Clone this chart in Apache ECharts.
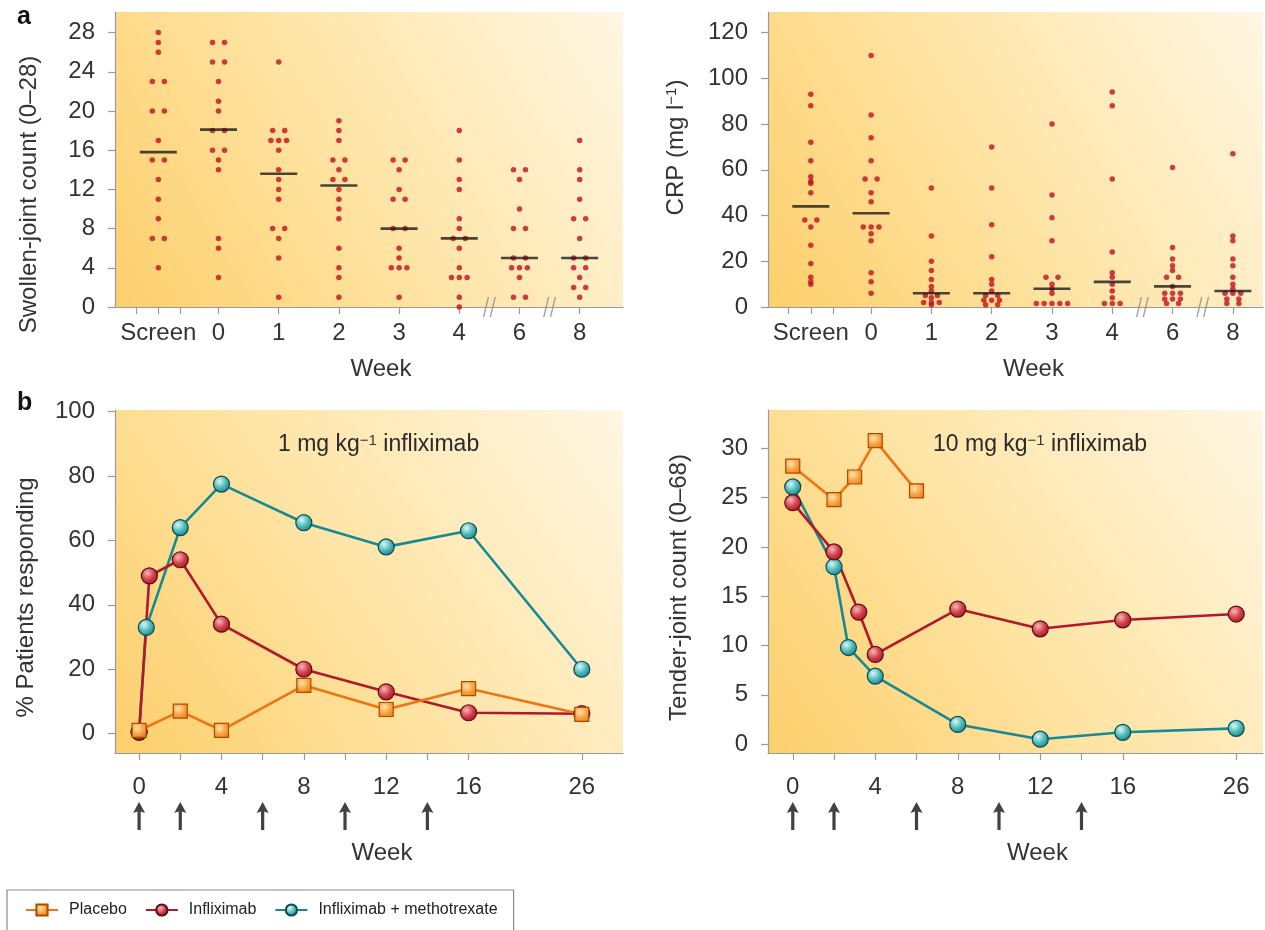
<!DOCTYPE html>
<html>
<head>
<meta charset="utf-8">
<script src="https://cdn.jsdelivr.net/npm/echarts@6/dist/echarts.min.js"></script>
<style>
  html, body { margin: 0; background: #fff; }
  #chart { width: 1265px; height: 930px; }
</style>
</head>
<body>
<div id="chart"></div>
<script>
// ---- panel a: categories and per-patient values ----
const weekCats = ["Screen", "0", "1", "2", "3", "4", "6", "8"];
const screenSideTicks = [-0.37, 0.37];
const breakAfter = ["4", "6"];

const swollen = [
  [28, 27, 26, 23, 23, 20, 20, 17, 15, 15, 13, 11, 9, 7, 7, 4],
  [27, 27, 25, 25, 23, 21, 20, 18, 18, 16, 16, 15, 14, 7, 6, 3],
  [25, 18, 18, 17, 17, 17, 16, 14, 13, 12, 11, 8, 8, 7, 5, 1],
  [19, 18, 17, 15, 15, 14, 13, 13, 12, 11, 10, 9, 6, 4, 3, 1],
  [15, 15, 14, 12, 11, 11, 8, 8, 6, 5, 4, 4, 4, 1],
  [18, 15, 13, 12, 9, 8, 7, 7, 6, 4, 3, 3, 3, 1, 0],
  [14, 14, 13, 10, 8, 8, 5, 5, 4, 4, 4, 3, 1, 1],
  [17, 14, 13, 11, 9, 9, 7, 5, 5, 4, 4, 3, 2, 2, 1],
];
const swollenMedian = [15.8, 18.1, 13.6, 12.4, 8, 7, 5, 5];

const crp = [
  [93, 88, 72, 64, 57, 55, 54, 50, 38, 38, 35, 27, 19, 13, 11, 10],
  [110, 84, 74, 64, 56, 56, 50, 46, 35, 35, 35, 32, 29, 15, 11, 6],
  [52, 31, 20, 16, 12, 9, 7, 5, 5, 4, 2, 2, 2, 1],
  [70, 52, 36, 22, 12, 10, 7, 5, 5, 3, 3, 3, 1, 1],
  [80, 49, 39, 29, 13, 13, 10, 8, 6, 1.5, 1.5, 1.5, 1.5, 1.5],
  [94, 88, 56, 24, 15, 13, 10, 7, 4, 1.5, 1.5, 1.5],
  [61, 26, 21, 18, 16, 13, 13, 9, 6, 6, 6, 3.5, 3.5, 3.5, 1.5, 1.5],
  [67, 31, 29, 21, 18, 13, 10, 8, 6, 6, 6, 3.5, 3.5, 1.5, 1.5],
];
const crpMedian = [44, 41, 6, 6, 8, 11, 9, 7];

// ---- panel b: time courses ----
const weekTicks = [0, 2, 4, 6, 8, 10, 12, 14, 16, 26];
const weekLabels = [0, 4, 8, 12, 16, 26];
const infusionWeeks = [0, 2, 6, 10, 14];

const placeboWeeks1 = [0, 2, 4, 8, 12, 16, 26];
const placebo1 = [1, 7, 1, 15, 7.5, 14, 6];
const inflixWeeks1 = [0, 0.5, 2, 4, 8, 12, 16, 26];
const inflix1 = [0.5, 49, 54, 34, 20, 13, 6.5, 6.2];
const mtxWeeks1 = [0, 0.35, 2, 4, 8, 12, 16, 26];
const mtx1 = [0.5, 33, 64, 77.5, 65.5, 58, 63, 20];

const placeboWeeks10 = [0, 2, 3, 4, 6];
const placebo10 = [28.2, 24.8, 27.1, 30.8, 25.7];
const inflixWeeks10 = [0, 2, 3.2, 4, 8, 12, 16, 26];
const inflix10 = [24.5, 19.5, 13.4, 9.1, 13.7, 11.7, 12.6, 13.2];
const mtxWeeks10 = [0, 2, 2.7, 4, 8, 12, 16, 26];
const mtx10 = [26.1, 18.0, 9.8, 6.9, 2.0, 0.5, 1.2, 1.6];

const pctTicks = [0, 20, 40, 60, 80, 100];
const tenderTicks = [0, 5, 10, 15, 20, 25, 30];
const swollenTicks = [0, 4, 8, 12, 16, 20, 24, 28];
const crpTicks = [0, 20, 40, 60, 80, 100, 120];

const FONT = "'Liberation Sans', Arial, sans-serif";
const GREY = "#9a9a9a";
const DOT = "#c20f1e";

const chart = echarts.init(document.getElementById("chart"));

// spread equal values sideways so they do not sit on each other
function spread(cols) {
  const pts = [];
  cols.forEach((vals, i) => {
    const counts = {};
    vals.forEach((v) => { counts[v] = (counts[v] || 0) + 1; });
    const seen = {};
    vals.forEach((v) => {
      const n = counts[v];
      const k = seen[v] || 0;
      seen[v] = k + 1;
      const step = n === 2 ? 0.2 : 0.13;
      pts.push([i + (k - (n - 1) / 2) * step, v]);
    });
  });
  return pts;
}

const bg = () => new echarts.graphic.LinearGradient(0, 1, 1, 0, [
  { offset: 0, color: "#fdcf6c" },
  { offset: 0.45, color: "#fee3a2" },
  { offset: 1, color: "#fff7e4" },
]);

const labelStyle = { fontFamily: FONT, fontSize: 24, color: "#333" };
const tick = (vals) => ({ show: true, length: 7, customValues: vals, lineStyle: { color: GREY, width: 1.2 } });
const line = { show: true, onZero: false, lineStyle: { color: GREY, width: 1.2 } };

function catAxis(gridIndex, min, max, shift) {
  const idx = weekCats.map((_, i) => i);
  return {
    gridIndex, type: "value", min, max,
    axisLine: line,
    axisTick: tick([...screenSideTicks, ...idx]),
    axisLabel: { ...labelStyle, margin: 14, customValues: idx, formatter: (v) => weekCats[Math.round(v)] },
    splitLine: { show: false },
    name: "Week", nameLocation: "middle", nameGap: 50,
    nameTextStyle: { ...labelStyle, padding: [0, 0, 0, shift] },
  };
}

function weekAxis(gridIndex, min, max, shift) {
  return {
    gridIndex, type: "value", min, max,
    breaks: [{ start: 17, end: 25, gap: 3.5 }],
    breakArea: { show: false },
    axisLine: { show: false, onZero: false },
    axisTick: tick(weekTicks),
    axisLabel: { ...labelStyle, margin: 22, customValues: weekLabels },
    splitLine: { show: false },
    name: "Week", nameLocation: "middle", nameGap: 88,
    nameTextStyle: { ...labelStyle, padding: [0, 0, 0, shift] },
  };
}

// plain baseline along the bottom of a panel b grid (the week axis has a break)
function baseline(gridIndex) {
  return {
    gridIndex, type: "value", min: 0, max: 1, position: "bottom",
    axisLine: line, axisTick: { show: false }, axisLabel: { show: false }, splitLine: { show: false },
  };
}

function yAxis(gridIndex, min, max, ticks, name, gap, pad, rich) {
  return {
    gridIndex, type: "value", min, max,
    axisLine: line,
    axisTick: tick(ticks),
    axisLabel: { ...labelStyle, margin: 20, customValues: ticks },
    splitLine: { show: false },
    name, nameLocation: "middle", nameGap: gap,
    nameTextStyle: { ...labelStyle, padding: pad, rich },
  };
}

const supRich = { sup: { fontFamily: FONT, fontSize: 15, verticalAlign: "top", lineHeight: 20, color: "#333" } };

function dotSeries(axis, cols) {
  return { type: "scatter", xAxisIndex: axis, yAxisIndex: axis, data: spread(cols), symbolSize: 5.5, itemStyle: { color: DOT }, z: 3, clip: false };
}
function medianSeries(axis, meds) {
  return { type: "scatter", xAxisIndex: axis, yAxisIndex: axis, data: meds.map((m, i) => [i, m]), symbol: "rect", symbolSize: [37, 2.6], itemStyle: { color: "#1b1b1b" }, z: 4, clip: false };
}
function breakSeries(axis) {
  return {
    type: "scatter", xAxisIndex: axis, yAxisIndex: axis, silent: true, clip: false, z: 5,
    data: breakAfter.map((c) => [weekCats.indexOf(c) + 0.5, 0]),
    symbol: "path://M0,20 L5,0 L6.5,0 L1.5,20 Z M7,20 L12,0 L13.5,0 L8.5,20 Z",
    symbolSize: [13, 20], itemStyle: { color: "#8c8c8c" },
  };
}

const radial = (c0, c1, c2) => ({
  type: "radial", x: 0.38, y: 0.34, r: 0.7,
  colorStops: [{ offset: 0, color: c0 }, { offset: 0.55, color: c1 }, { offset: 1, color: c2 }],
});

const STYLE = {
  Placebo: { line: "#f07412", symbol: "rect", size: 14, color: radial("#fee6b0", "#f8a84a", "#ee8418"), border: "#b24a00" },
  Infliximab: { line: "#b3172a", symbol: "circle", size: 16, color: radial("#f6b8b4", "#d2404c", "#a81626"), border: "#5c0c14" },
  "Infliximab + methotrexate": { line: "#168a94", symbol: "circle", size: 16, color: radial("#d8f8f4", "#4cb9ba", "#1d7f88"), border: "#0b4a50" },
};

function lineSeries(axis, name, weeks, vals) {
  const s = STYLE[name];
  return {
    type: "line", name, xAxisIndex: axis, yAxisIndex: axis,
    data: weeks.map((w, i) => [w, vals[i]]),
    symbol: s.symbol, symbolSize: s.size, showAllSymbol: true,
    lineStyle: { color: s.line, width: 2.6 },
    itemStyle: { color: s.color, borderColor: s.border, borderWidth: 1.2 },
    z: 3,
  };
}
function arrowSeries(axis, yMin) {
  return {
    type: "scatter", xAxisIndex: axis, yAxisIndex: axis, silent: true, clip: false,
    data: infusionWeeks.map((w) => [w, yMin]),
    symbol: "path://M6,0 L12,11 L7.6,9.6 L7.6,28 L4.4,28 L4.4,9.6 L0,11 Z",
    symbolSize: [12, 28], symbolOffset: [0, 63], itemStyle: { color: "#111" },
  };
}

const option = {
  animation: false,
  backgroundColor: "#fff",
  title: [
    { text: "a", left: 12, top: 0, textStyle: { fontFamily: FONT, fontSize: 25, fontWeight: "bold", color: "#111" } },
    { text: "b", left: 12, top: 386, textStyle: { fontFamily: FONT, fontSize: 25, fontWeight: "bold", color: "#111" } },
    { text: "1 mg kg{sup|−1} infliximab", left: 273, top: 428, textStyle: { fontFamily: FONT, fontSize: 23, fontWeight: "normal", color: "#2a2a2a", rich: supRich } },
    { text: "10 mg kg{sup|−1} infliximab", left: 928, top: 428, textStyle: { fontFamily: FONT, fontSize: 23, fontWeight: "normal", color: "#2a2a2a", rich: supRich } },
  ],
  grid: [
    { left: 115, top: 12, width: 508, height: 295 },
    { left: 768, top: 12, width: 495, height: 295 },
    { left: 115, top: 410, width: 508, height: 343 },
    { left: 768, top: 410, width: 495, height: 343 },
  ].map((g) => ({ ...g, show: true, borderWidth: 0, backgroundColor: bg(), outerBoundsMode: "none" })),
  xAxis: [
    catAxis(0, -0.72, 7.72, 24),
    catAxis(1, -0.71, 7.5, 36),
    weekAxis(2, -1.17, 28, 26),
    weekAxis(3, -1.2, 27.3, 44),
    baseline(2),
    baseline(3),
  ],
  yAxis: [
    yAxis(0, 0, 30.1, swollenTicks, "Swollen-joint count (0–28)", 74, [0, 70, 0, 0]),
    yAxis(1, 0, 129, crpTicks, "CRP (mg l{sup|−1})", 80, [0, 0, 0, 24], supRich),
    yAxis(2, -6, 100.5, pctTicks, "% Patients responding", 77, [0, 32, 0, 0]),
    yAxis(3, -0.9, 33.9, tenderTicks, "Tender-joint count (0–68)", 77, [0, 12, 0, 0]),
  ],
  legend: {
    data: ["Placebo", "Infliximab", "Infliximab + methotrexate"],
    left: 7, top: 890, padding: [12, 16, 30, 18], itemGap: 18,
    itemWidth: 32, itemHeight: 14,
    borderColor: "#8a8a8a", borderWidth: 1.2,
    textStyle: { fontFamily: FONT, fontSize: 16, color: "#222", padding: [0, 0, 0, 6] },
  },
  series: [
    dotSeries(0, swollen), medianSeries(0, swollenMedian), breakSeries(0),
    dotSeries(1, crp), medianSeries(1, crpMedian), breakSeries(1),
    lineSeries(2, "Infliximab + methotrexate", mtxWeeks1, mtx1),
    lineSeries(2, "Infliximab", inflixWeeks1, inflix1),
    lineSeries(2, "Placebo", placeboWeeks1, placebo1),
    arrowSeries(2, -6),
    lineSeries(3, "Infliximab + methotrexate", mtxWeeks10, mtx10),
    lineSeries(3, "Infliximab", inflixWeeks10, inflix10),
    lineSeries(3, "Placebo", placeboWeeks10, placebo10),
    arrowSeries(3, -0.9),
  ],
};

chart.setOption(option);
</script>
</body>
</html>
